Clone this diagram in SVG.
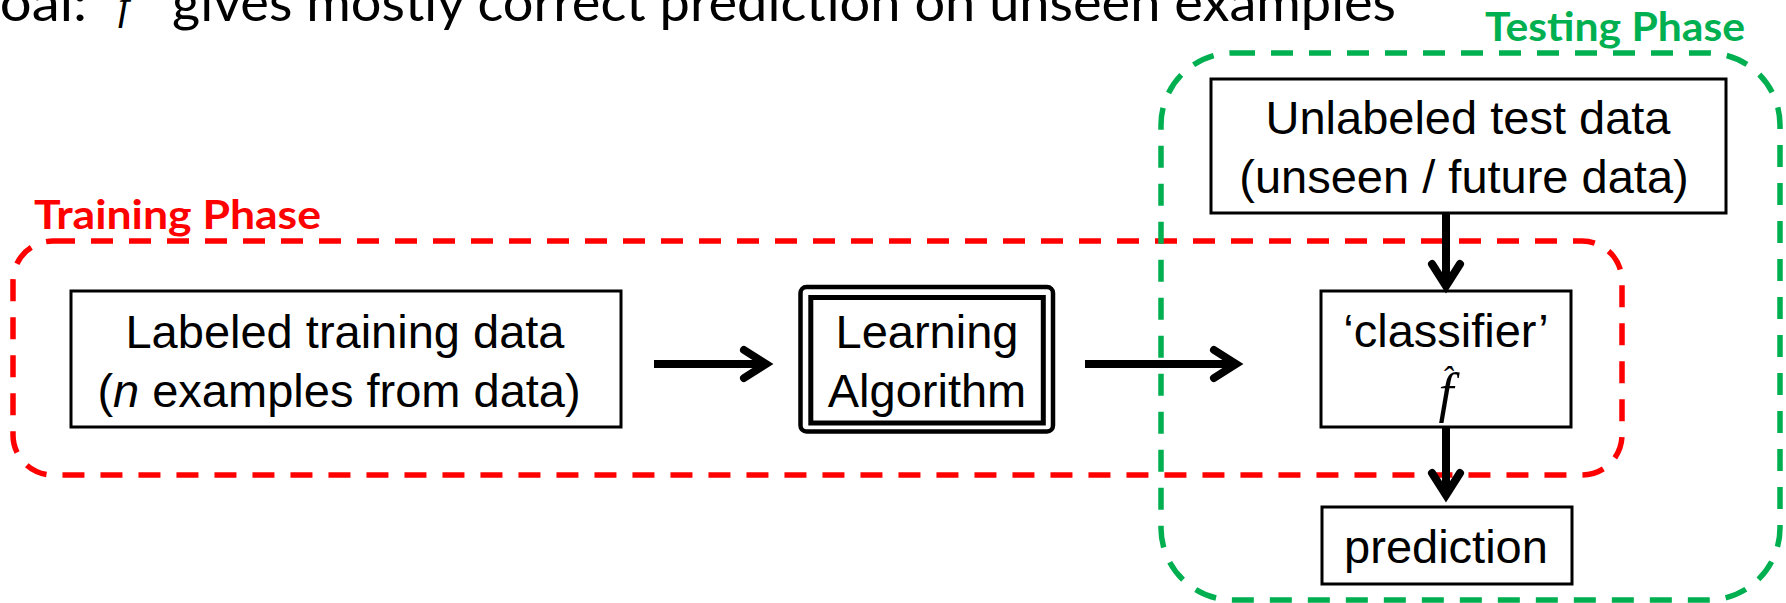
<svg xmlns="http://www.w3.org/2000/svg" width="1786" height="603" viewBox="0 0 1786 603">
  <style>
    .box { fill: #ffffff; stroke: #000000; stroke-width: 3; }
    .lbl { font-family: "Liberation Sans", Arial, sans-serif; font-size: 47px; fill: #000000; text-anchor: middle; }
    .phase { font-family: Lato, "Open Sans", sans-serif; font-weight: bold; font-size: 41px; }
    .title { font-family: Lato, "Open Sans", sans-serif; font-size: 53px; fill: #000000; }
    .math { font-family: "Liberation Serif", "Times New Roman", serif; font-style: italic; fill: #000000; }
    .dash-red { fill: none; stroke: #ff0000; stroke-width: 5.5; stroke-dasharray: 22 16; }
    .dash-green { fill: none; stroke: #00b050; stroke-width: 5.5; stroke-dasharray: 22 16; }
    .conn { stroke: #000000; stroke-width: 8; fill: none; marker-end: url(#chev); }
  </style>
  <defs>
    <marker id="chev" markerUnits="userSpaceOnUse" viewBox="-30 -20 40 40" refX="0" refY="0" markerWidth="40" markerHeight="40" orient="auto" overflow="visible">
      <path d="M -22 -14 L 0 0 L -22 14" fill="none" stroke="#000000" stroke-width="8" stroke-linecap="round" stroke-linejoin="miter"/>
    </marker>
  </defs>

  <rect width="1786" height="603" fill="#ffffff"/>

  <!-- title line (cut off at top) -->
  <g id="title">
    <text class="title" x="-41" y="21" textLength="128" lengthAdjust="spacingAndGlyphs">Goal:</text>
    <text class="math" x="118" y="19" font-size="42">f</text>
    <text class="title" x="172" y="21" textLength="1224" lengthAdjust="spacingAndGlyphs">gives mostly correct prediction on unseen examples</text>
  </g>

  <!-- Training phase container -->
  <g id="training-phase">
    <rect class="dash-red" x="13" y="241" width="1609" height="234" rx="40" ry="40"/>
    <text class="phase" x="34" y="229" fill="#ff0000" textLength="287" lengthAdjust="spacingAndGlyphs">Training Phase</text>
  </g>

  <!-- nodes -->
  <g id="labeled-data">
    <rect class="box" x="71" y="291" width="550" height="136"/>
    <text class="lbl" x="345" y="348">Labeled training data</text>
    <text class="lbl" x="339" y="407">(<tspan font-style="italic">n</tspan> examples from data)</text>
  </g>

  <g id="learning-algorithm">
    <rect x="800.5" y="287" width="252.5" height="144.5" rx="6" ry="6" fill="#ffffff" stroke="#000000" stroke-width="4.5"/>
    <rect x="810.8" y="297.5" width="232.5" height="125.5" fill="none" stroke="#000000" stroke-width="5"/>
    <text class="lbl" x="927" y="348">Learning</text>
    <text class="lbl" x="927" y="407">Algorithm</text>
  </g>

  <g id="unlabeled-data">
    <rect class="box" x="1211" y="79" width="515" height="134"/>
    <text class="lbl" x="1468" y="134">Unlabeled test data</text>
    <text class="lbl" x="1464" y="193">(unseen / future data)</text>
  </g>

  <g id="classifier">
    <rect class="box" x="1321" y="291" width="250" height="136"/>
    <text class="lbl" x="1446" y="347">‘classifier’</text>
    <text class="math" text-anchor="middle"><tspan x="1447" y="390" font-size="34">ˆ</tspan><tspan x="1446" y="411" font-size="54">f</tspan></text>
  </g>

  <g id="prediction">
    <rect class="box" x="1322" y="507" width="250" height="77"/>
    <text class="lbl" x="1446" y="563">prediction</text>
  </g>

  <!-- connectors -->
  <g id="connectors">
    <line class="conn" x1="654" y1="364" x2="766" y2="364"/>
    <line class="conn" x1="1085" y1="364" x2="1236" y2="364"/>
    <line class="conn" x1="1446" y1="214" x2="1446" y2="286"/>
    <line class="conn" x1="1446" y1="427" x2="1446" y2="495"/>
  </g>

  <!-- Testing phase container -->
  <g id="testing-phase">
    <rect class="dash-green" x="1161" y="53" width="619" height="547" rx="72" ry="72"/>
    <text class="phase" x="1485" y="41" fill="#00b050" textLength="260" lengthAdjust="spacingAndGlyphs">Testing Phase</text>
  </g>
</svg>
